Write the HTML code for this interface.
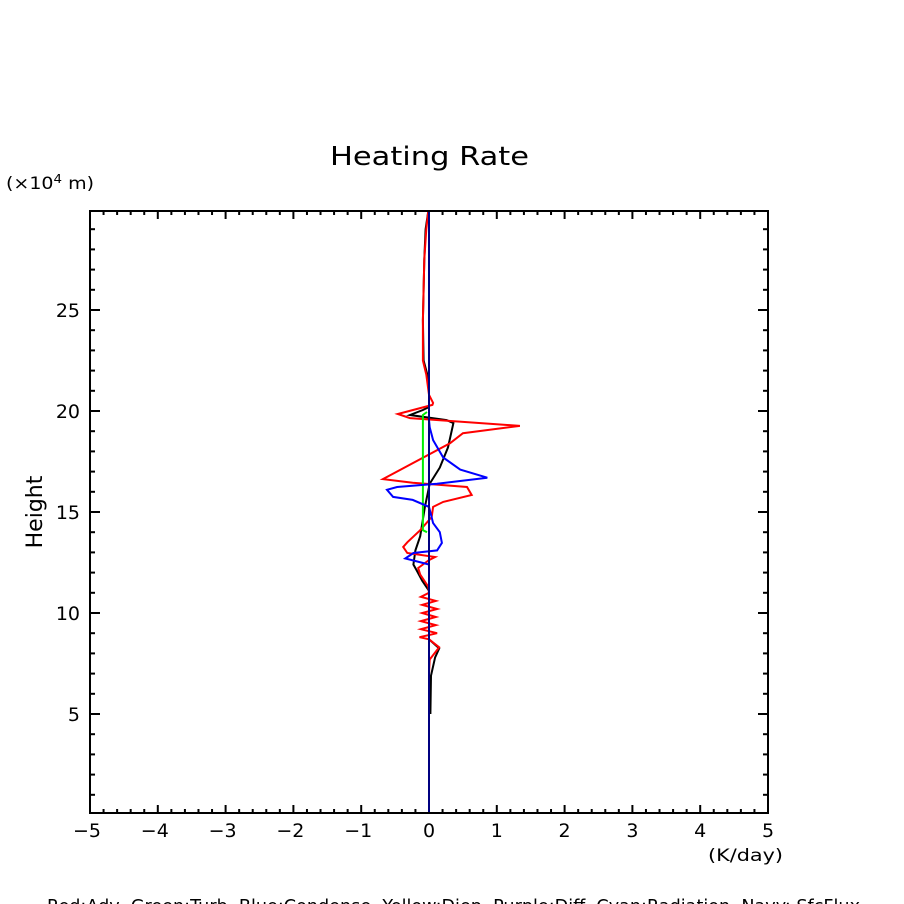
<!DOCTYPE html>
<html><head><meta charset="utf-8"><style>
html,body{margin:0;padding:0;background:#fff;width:904px;height:904px;overflow:hidden}
svg{display:block;font-family:"DejaVu Sans","Liberation Sans",sans-serif}
</style></head><body>
<svg id="chart" width="904" height="904" viewBox="0 0 904 904" xmlns="http://www.w3.org/2000/svg">
<rect width="904" height="904" fill="#fff"/>
<text x="330" y="165" font-size="26" textLength="199" lengthAdjust="spacingAndGlyphs">Heating Rate</text>
<text x="6" y="189" font-size="17" textLength="88" lengthAdjust="spacingAndGlyphs">(×10<tspan font-size="12" dy="-6">4</tspan><tspan dy="6"> m)</tspan></text>
<text transform="translate(42,512) rotate(-90)" font-size="22" text-anchor="middle">Height</text>
<text x="708" y="861" font-size="17" textLength="75" lengthAdjust="spacingAndGlyphs">(K/day)</text>
<text x="47" y="912" font-size="18" style="white-space:pre" textLength="813" lengthAdjust="spacingAndGlyphs">Red:Adv  Green:Turb  Blue:Condense  Yellow:Diep  Purple:Diff  Cyan:Radiation  Navy: SfcFlux</text>
<g id="axes"></g>
<g id="series"></g>
<rect x="90" y="211" width="678" height="602" fill="none" stroke="#000" stroke-width="2"/>
</svg>
<script>
const xTicks=[-5,-4,-3,-2,-1,0,1,2,3,4,5];
const yTicks=[5,10,15,20,25];
const redH=[29.9,29.0,27.5,24.5,22.5,21.8,20.8,20.4,20.3,19.85,19.65,19.26,18.9,18.4,16.63,16.45,16.24,15.84,15.5,15.25,14.75,14.1,13.5,13.27,12.97,12.77,12.62,12.23,11.9,11.3,11.0,10.8,10.6,10.4,10.2,10.0,9.8,9.6,9.4,9.2,9.0,8.8,8.7,8.3,7.7,7.0,5.0,0.1];
const redV=[-0.01,-0.04,-0.07,-0.09,-0.09,-0.04,0,0.06,0.05,-0.46,-0.28,1.34,0.5,0.31,-0.68,-0.24,0.56,0.63,0.21,0.06,0.04,-0.13,-0.32,-0.38,-0.32,0.09,0.0,-0.16,-0.13,-0.01,0.0,-0.12,0.1,-0.1,0.12,-0.1,0.1,-0.12,0.1,-0.12,0.12,-0.14,0.0,0.15,0.01,0.0,0.0,0.0];
const blackH=[29.9,29.0,27.5,24.5,22.5,21.5,20.2,20.05,19.8,19.55,19.4,18.2,17.2,16.4,15.25,13.8,13.1,12.4,12.1,11.6,11.1,8.7,8.25,7.8,6.9,5.0];
const blackV=[-0.01,-0.05,-0.07,-0.09,-0.08,0.0,0.0,-0.09,-0.28,0.26,0.36,0.28,0.16,0.01,-0.06,-0.13,-0.2,-0.23,-0.18,-0.1,0.0,0.0,0.15,0.09,0.03,0.02];
const greenH=[19.95,19.8,14.1,14.0];
const greenV=[-0.03,-0.09,-0.09,-0.03];
const blueH=[29.9,19.55,19.2,18.56,17.7,17.1,16.7,16.4,16.24,16.1,15.75,15.6,15.25,14.45,14.0,13.47,13.1,12.97,12.7,12.6,12.4,0.1];
const blueV=[0,0,0.01,0.06,0.21,0.46,0.86,0.12,-0.47,-0.62,-0.53,-0.24,0.0,0.06,0.16,0.19,0.12,-0.23,-0.35,-0.23,0,0];
const navyH=[0.1,29.9];
const navyV=[0,0];
const X0=90,X1=768,Y0=813,Y1=211;
function sx(v){return X0+(v+5)/10*(X1-X0);}
function sy(h){return 815-h*20.2;}
const NS="http://www.w3.org/2000/svg";
const axes=document.getElementById('axes');
function line(g,x1,y1,x2,y2,name){const l=document.createElementNS(NS,'line');
l.setAttribute('x1',x1);l.setAttribute('y1',y1);l.setAttribute('x2',x2);l.setAttribute('y2',y2);
l.setAttribute('stroke','#000');l.setAttribute('stroke-width','2');


g.appendChild(l);}
for(let i=0;i<=50;i++){const v=-5+i*0.2;const x=sx(v);const major=i%5===0;const L=major?8:4;
line(axes,x,Y0,x,Y0-L,'x-tick');line(axes,x,Y1,x,Y1+L,'x-tick-top');}
for(let h=1;h<=29;h++){const y=sy(h);const major=h%5===0;const L=major?10:5;
line(axes,X0,y,X0+L,y,'y-tick');line(axes,X1,y,X1-L,y,'y-tick-right');}
xTicks.forEach(v=>{const t=document.createElementNS(NS,'text');
t.setAttribute('x',sx(v)+(v<0?-3:0));t.setAttribute('y',837);t.setAttribute('font-size','19');t.setAttribute('text-anchor','middle');
t.textContent=(v<0?'\u2212'+(-v):String(v));


axes.appendChild(t);});
yTicks.forEach(h=>{const t=document.createElementNS(NS,'text');
t.setAttribute('x',80);t.setAttribute('y',sy(h)+7);t.setAttribute('font-size','19');t.setAttribute('text-anchor','end');
t.textContent=String(h);


axes.appendChild(t);});
const ser=document.getElementById('series');
function poly(H,V,color,name){const p=document.createElementNS(NS,'polyline');
p.setAttribute('points',H.map((h,i)=>sx(V[i]).toFixed(1)+','+sy(h).toFixed(1)).join(' '));
p.setAttribute('fill','none');p.setAttribute('stroke',color);p.setAttribute('stroke-width','2');


ser.appendChild(p);}
poly(blackH,blackV,'#000','black-total-line');
poly(redH,redV,'#ff0000','red-adv-line');
poly(greenH,greenV,'#00ee00','green-turb-line');
poly(blueH,blueV,'#0000ff','blue-condense-line');
poly(navyH,navyV,'#000080','navy-sfcflux-line');
</script>
</body></html>
